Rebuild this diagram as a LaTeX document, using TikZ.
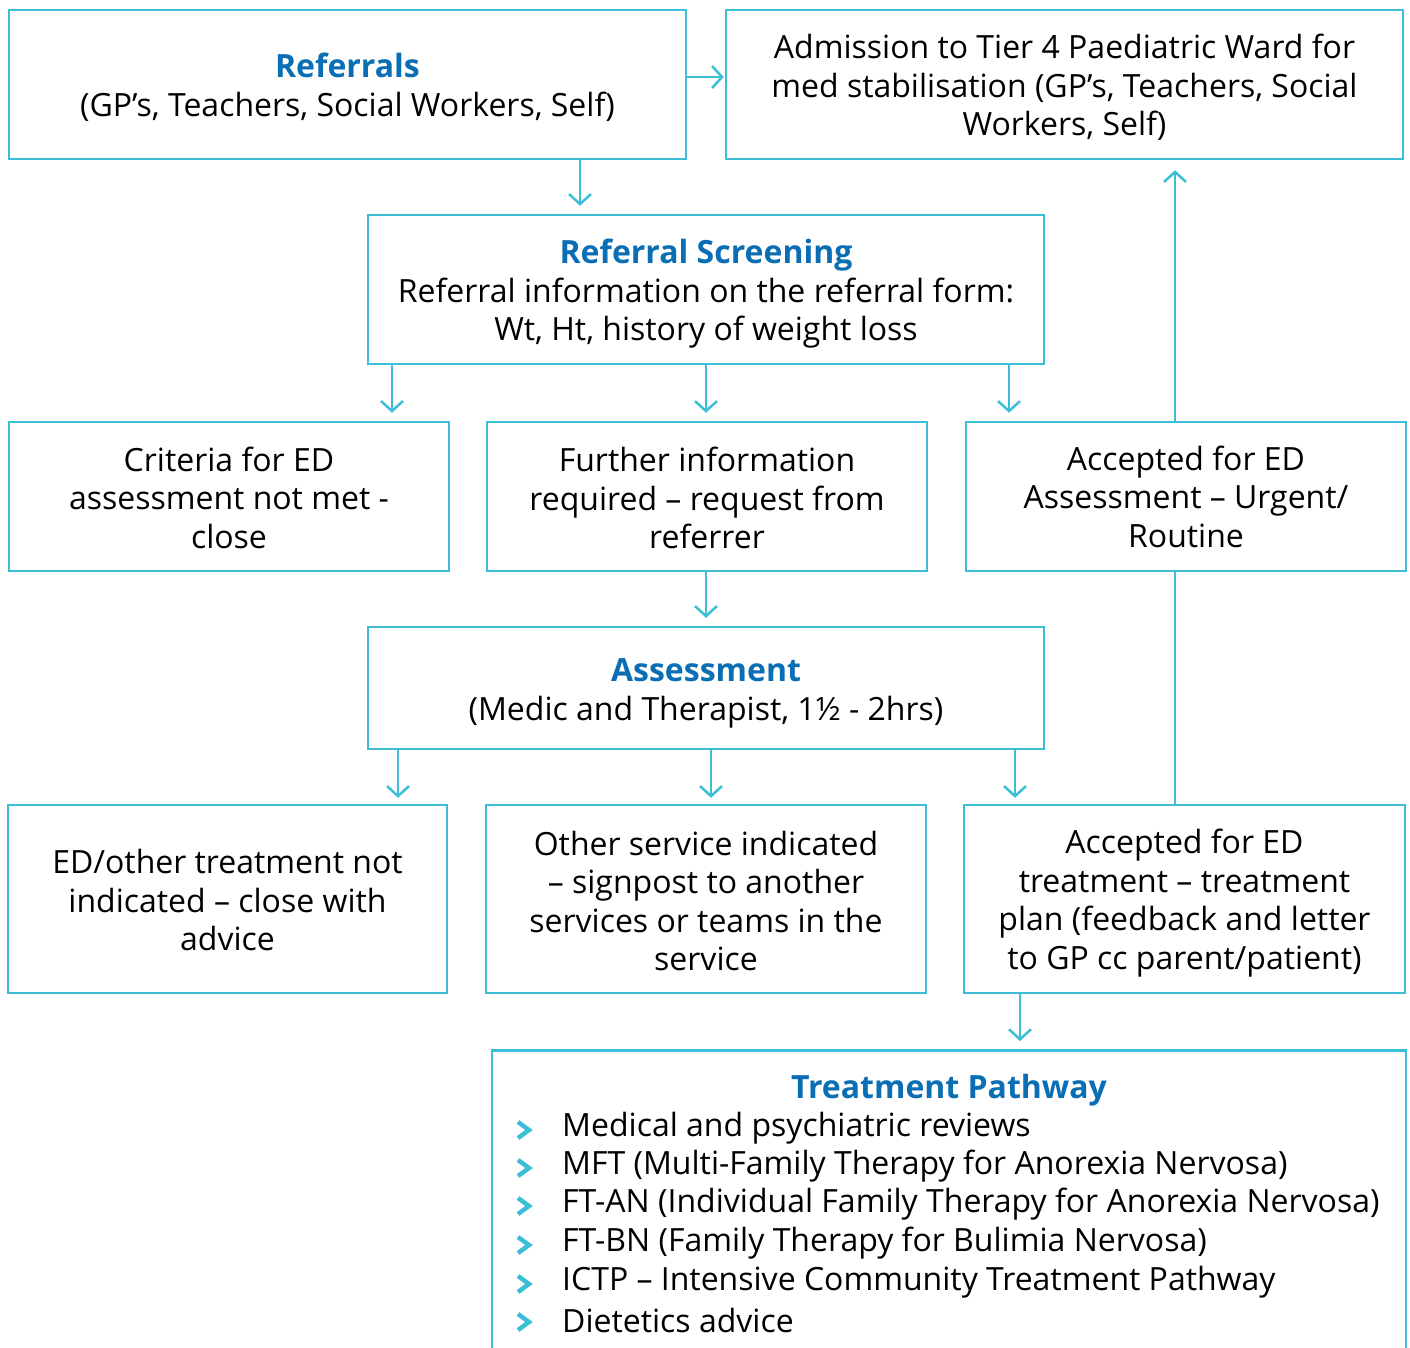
\documentclass[tikz,border=0pt]{standalone}
\usepackage{fontspec}
\setmainfont{Open Sans}
\usetikzlibrary{arrows.meta}
\definecolor{edge}{HTML}{3CBFD6}
\definecolor{ttl}{HTML}{0A6EB4}
\tikzset{
  box/.style={draw=edge, line width=2.5pt, rectangle, inner sep=0pt},
  txt/.style={inner sep=0pt, align=center, font=\fontsize{32}{38.5}\selectfont, text=black},
  arr/.style={draw=edge, line width=2.5pt, -{Straight Barb[length=10pt,width=22pt,line width=2.5pt]}},
  link/.style={draw=edge, line width=2.5pt},
  hd/.style={text=ttl, font=\fontsize{32}{38.5}\selectfont\bfseries},
  bul/.style={anchor=west, inner sep=0pt, font=\fontsize{32}{38.5}\selectfont},
  chev/.style={draw=edge, line width=4.5pt, line cap=butt, line join=miter}
}
\begin{document}
\begin{tikzpicture}[x=1pt,y=-1pt]
\useasboundingbox (0,0) rectangle (1410,1347);
\clip (0,0) rectangle (1410,1347);
% boxes
\node[box, minimum width=677pt, minimum height=149pt] (ref) at (347.5,84.5) {};
\node[txt] (reft) at ([yshift=-3pt]ref.center)
  {{\bfseries\color{ttl}Referrals}\\(GP’s, Teachers, Social Workers, Self)};
\node[box, minimum width=677pt, minimum height=149pt] (adm) at (1064.5,84.5) {};
\node[txt] (admt) at ([yshift=-3pt]adm.center)
  {Admission to Tier 4 Paediatric Ward for\\med stabilisation (GP’s, Teachers, Social\\Workers, Self)};
\node[box, minimum width=676pt, minimum height=149pt] (scr) at (706,289.5) {};
\node[txt] (scrt) at ([yshift=-4.5pt]scr.center)
  {{\bfseries\color{ttl}Referral Screening}\\Referral information on the referral form:\\Wt, Ht, history of weight loss};
\node[box, minimum width=440pt, minimum height=149pt] (crit) at (229,496.5) {};
\node[txt] (critt) at ([yshift=-1pt]crit.center)
  {Criteria for ED\\assessment not met -\\close};
\node[box, minimum width=440pt, minimum height=149pt] (fur) at (707,496.5) {};
\node[txt] (furt) at ([yshift=-1.5pt]fur.center)
  {Further information\\required – request from\\referrer};
\node[box, minimum width=440pt, minimum height=149pt] (acca) at (1186,496.5) {};
\node[txt] (accat) at (acca.center)
  {Accepted for ED\\Assessment – Urgent/\\Routine};
\node[box, minimum width=676pt, minimum height=122pt] (ass) at (706,688) {};
\node[txt] (asst) at ([yshift=-5.5pt]ass.center)
  {{\bfseries\color{ttl}Assessment}\\(Medic and Therapist, 1½ - 2hrs)};
\node[box, minimum width=439pt, minimum height=188pt] (edo) at (227.5,899) {};
\node[txt] (edot) at ([yshift=-1pt]edo.center)
  {ED/other treatment not\\indicated – close with\\advice};
\node[box, minimum width=440pt, minimum height=188pt] (oth) at (706,899) {};
\node[txt] (otht) at ([yshift=-2pt]oth.center)
  {Other service indicated\\– signpost to another\\services or teams in the\\service};
\node[box, minimum width=441pt, minimum height=188pt] (acct) at (1184.5,899) {};
\node[txt] (acctt) at ([yshift=-4pt]acct.center)
  {Accepted for ED\\treatment – treatment\\plan (feedback and letter\\to GP cc parent/patient)};
\node[box, minimum width=914pt, minimum height=400pt, anchor=north] (tp) at (949,1049) {};
\node[hd, inner sep=0pt] (tpt) at (949,1090) {Treatment Pathway};
% bullets
\foreach \y/\t [count=\i] in {1128/Medical and psychiatric reviews,
  1166/MFT (Multi-Family Therapy for Anorexia Nervosa),
  1204/FT-AN (Individual Family Therapy for Anorexia Nervosa),
  1243/FT-BN (Family Therapy for Bulimia Nervosa),
  1282/ICTP – Intensive Community Treatment Pathway,
  1320/Dietetics advice}{
  \node[bul] (b\i) at (562,\y) {\t};
  \draw[chev] (518,\y-6) -- (529,\y+2) -- (518,\y+10);
}
% connectors
\draw[arr, shorten >=1pt] (ref.east |- 0,77) -- (adm.west |- 0,77);
\draw[arr, shorten >=8pt] (ref.south -| 580,0) -- (scr.north -| 580,0);
\draw[arr, shorten >=8pt] (scr.south -| 392,0) -- (crit.north -| 392,0);
\draw[arr, shorten >=8pt] (scr.south -| 706,0) -- (fur.north -| 706,0);
\draw[arr, shorten >=8pt] (scr.south -| 1009,0) -- (acca.north -| 1009,0);
\draw[arr, shorten >=8pt] (fur.south -| 706,0) -- (ass.north -| 706,0);
\draw[arr, shorten >=6pt] (ass.south -| 398,0) -- (edo.north -| 398,0);
\draw[arr, shorten >=6pt] (ass.south -| 711,0) -- (oth.north -| 711,0);
\draw[arr, shorten >=6pt] (ass.south -| 1015,0) -- (acct.north -| 1015,0);
\draw[arr, shorten >=8pt] (acct.south -| 1020,0) -- (tp.north -| 1020,0);
\draw[link] (acct.north -| 1175,0) -- (acca.south -| 1175,0);
\draw[arr, shorten >=10pt] (acca.north -| 1175,0) -- (adm.south -| 1175,0);
\end{tikzpicture}
\end{document}
